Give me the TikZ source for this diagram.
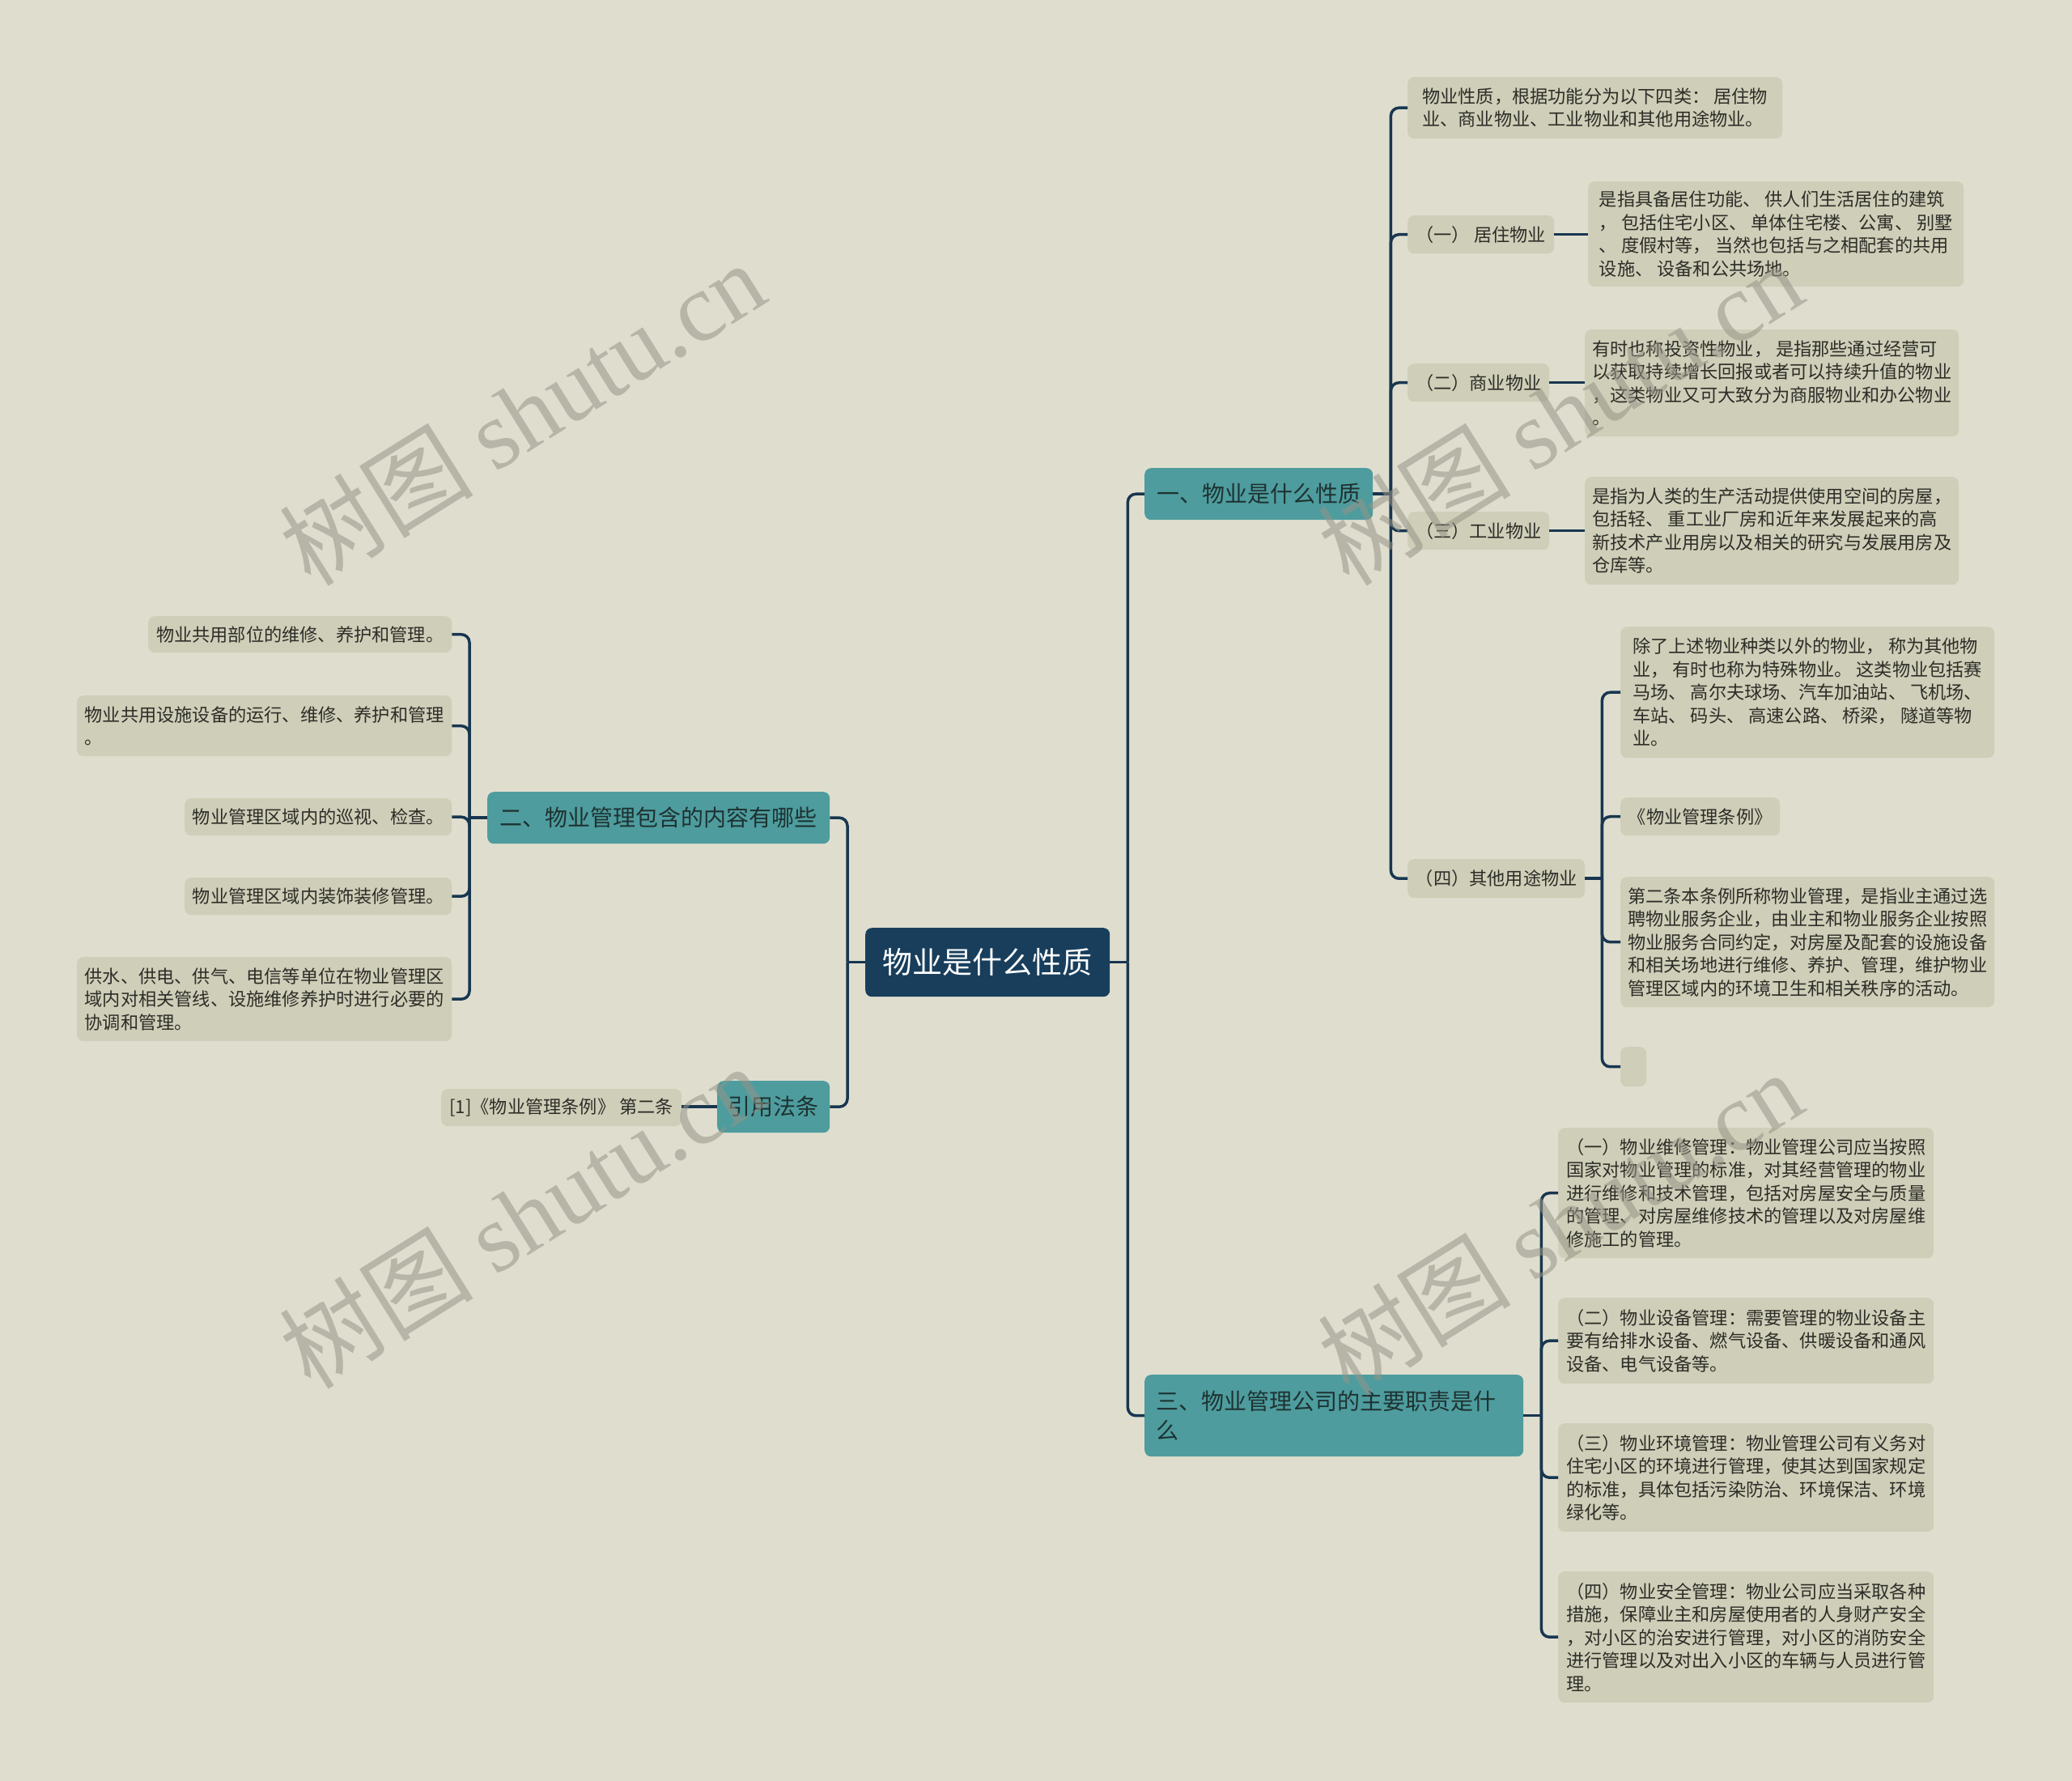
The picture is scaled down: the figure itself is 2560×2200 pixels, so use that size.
\documentclass[tikz,border=0pt]{standalone}
\usepackage{fontspec}
\setmainfont{Noto Sans CJK SC}
\newfontfamily\wmfont{Liberation Serif}
\definecolor{bgc}{RGB}{223,222,206}
\definecolor{leafc}{RGB}{207,206,184}
\definecolor{tealc}{RGB}{78,156,158}
\definecolor{rootc}{RGB}{24,62,92}
\definecolor{linec}{RGB}{24,54,80}
\definecolor{txtc}{RGB}{45,45,40}
\definecolor{btxt}{RGB}{30,50,50}
\definecolor{wmc}{RGB}{150,148,135}
\begin{document}
\begin{tikzpicture}[x=1pt,y=-1pt,
 box/.style={anchor=north west, rounded corners=8pt, inner sep=0pt, align=left},
 leaf/.style={box, fill=leafc, text=txtc, font=\fontsize{22.2}{28.5}\selectfont},
 branch/.style={box, fill=tealc, text=btxt, font=\fontsize{28}{36}\selectfont},
 rootbox/.style={box, fill=rootc, text=white, font=\fontsize{37}{44}\selectfont},
 conn/.style={draw=linec, line width=3.5pt, rounded corners=10pt},
 wm/.style={rotate=32, text=wmc, opacity=0.55, font=\fontsize{120}{125}\selectfont},
]
\useasboundingbox (0,0) rectangle (2560,2200);
\fill[bgc] (0,0) rectangle (2560,2200);

% root and branches
\node[rootbox, minimum width=302pt, minimum height=85pt] (root) at (1069,1146) {物业是什么性质};
\node[branch, minimum width=282pt, minimum height=64pt] (b1) at (1414,578) {一、物业是什么性质};
\node[branch, minimum width=423pt, minimum height=64pt] (b2) at (602,978) {二、物业管理包含的内容有哪些};
\node[branch, minimum width=139pt, minimum height=64pt] (bref) at (886,1335) {引用法条};
\node[branch, minimum width=468pt, minimum height=101pt, text width=440pt, inner xsep=14pt] (b3) at (1414,1698) {三、物业管理公司的主要职责是什\\么};

% branch 1 children
\node[leaf, minimum width=463pt, minimum height=76pt] (c1) at (1739,95) {物业性质，根据功能分为以下四类： 居住物\\业、商业物业、工业物业和其他用途物业。};
\node[leaf, minimum width=181pt, minimum height=47pt] (c2) at (1739,266) {（一） 居住物业};
\node[leaf, minimum width=464pt, minimum height=130pt] (c2x) at (1962,224) {是指具备居住功能、 供人们生活居住的建筑\\， 包括住宅小区、 单体住宅楼、公寓、 别墅\\、 度假村等， 当然也包括与之相配套的共用\\设施、 设备和公共场地。};
\node[leaf, minimum width=175pt, minimum height=47pt] (c3) at (1739,449) {（二）商业物业};
\node[leaf, minimum width=462pt, minimum height=132pt] (c3x) at (1958,407) {有时也称投资性物业， 是指那些通过经营可\\以获取持续增长回报或者可以持续升值的物业\\，这类物业又可大致分为商服物业和办公物业\\。};
\node[leaf, minimum width=175pt, minimum height=47pt] (c4) at (1739,632) {（三）工业物业};
\node[leaf, minimum width=462pt, minimum height=133pt] (c4x) at (1958,589) {是指为人类的生产活动提供使用空间的房屋，\\包括轻、 重工业厂房和近年来发展起来的高\\新技术产业用房以及相关的研究与发展用房及\\仓库等。};
\node[leaf, minimum width=219pt, minimum height=48pt] (c5) at (1739,1061) {（四）其他用途物业};
\node[leaf, minimum width=462pt, minimum height=162pt] (d1) at (2002,774) {除了上述物业种类以外的物业， 称为其他物\\业， 有时也称为特殊物业。 这类物业包括赛\\马场、 高尔夫球场、汽车加油站、 飞机场、\\车站、 码头、 高速公路、 桥梁， 隧道等物\\业。};
\node[leaf, minimum width=197pt, minimum height=47pt] (d2) at (2002,985) {《物业管理条例》};
\node[leaf, minimum width=462pt, minimum height=161pt] (d3) at (2002,1083) {第二条本条例所称物业管理，是指业主通过选\\聘物业服务企业，由业主和物业服务企业按照\\物业服务合同约定，对房屋及配套的设施设备\\和相关场地进行维修、养护、管理，维护物业\\管理区域内的环境卫生和相关秩序的活动。};
\node[leaf, minimum width=32pt, minimum height=49pt] (d4) at (2002,1293) {};

% branch 3 children
\node[leaf, minimum width=464pt, minimum height=161pt] (e1) at (1925,1393) {（一）物业维修管理：物业管理公司应当按照\\国家对物业管理的标准，对其经营管理的物业\\进行维修和技术管理，包括对房屋安全与质量\\的管理、对房屋维修技术的管理以及对房屋维\\修施工的管理。};
\node[leaf, minimum width=464pt, minimum height=106pt] (e2) at (1925,1603) {（二）物业设备管理：需要管理的物业设备主\\要有给排水设备、燃气设备、供暖设备和通风\\设备、电气设备等。};
\node[leaf, minimum width=464pt, minimum height=134pt] (e3) at (1925,1758) {（三）物业环境管理：物业管理公司有义务对\\住宅小区的环境进行管理，使其达到国家规定\\的标准，具体包括污染防治、环境保洁、环境\\绿化等。};
\node[leaf, minimum width=464pt, minimum height=162pt] (e4) at (1925,1941) {（四）物业安全管理：物业公司应当采取各种\\措施，保障业主和房屋使用者的人身财产安全\\，对小区的治安进行管理，对小区的消防安全\\进行管理以及对出入小区的车辆与人员进行管\\理。};

% branch 2 children
\node[leaf, minimum width=375pt, minimum height=45pt] (f1) at (183,761) {物业共用部位的维修、养护和管理。};
\node[leaf, minimum width=463pt, minimum height=75pt] (f2) at (95,859) {物业共用设施设备的运行、维修、养护和管理\\。};
\node[leaf, minimum width=330pt, minimum height=46pt] (f3) at (228,986) {物业管理区域内的巡视、检查。};
\node[leaf, minimum width=330pt, minimum height=46pt] (f4) at (228,1084) {物业管理区域内装饰装修管理。};
\node[leaf, minimum width=463pt, minimum height=104pt] (f5) at (95,1182) {供水、供电、供气、电信等单位在物业管理区\\域内对相关管线、设施维修养护时进行必要的\\协调和管理。};

% ref child
\node[leaf, minimum width=297pt, minimum height=46pt] (rc) at (545,1345) {[1]《物业管理条例》 第二条};

% junctions
\path (root.east) ++(22,0) coordinate (jR);
\path (root.west) ++(-22,0) coordinate (jL);
\path (b1.east) ++(22,0) coordinate (j1);
\path (b2.west) ++(-22,0) coordinate (j2);
\path (b3.east) ++(22,0) coordinate (j3);
\path (c5.east) ++(21,0) coordinate (j5);

% connectors
\draw[conn] (root.east) -- (jR);
\draw[conn] (jR) |- (b1.west);
\draw[conn] (jR) |- (b3.west);
\draw[conn] (root.west) -- (jL);
\draw[conn] (jL) |- (b2.east);
\draw[conn] (jL) |- (bref.east);

\draw[conn] (b1.east) -- (j1);
\foreach \n in {c1,c2,c3,c4,c5} \draw[conn] (j1) |- (\n.west);
\draw[conn] (c2.east) -- (c2.east -| c2x.west);
\draw[conn] (c3.east) -- (c3.east -| c3x.west);
\draw[conn] (c4.east) -- (c4.east -| c4x.west);
\draw[conn] (c5.east) -- (j5);
\foreach \n in {d1,d2,d3,d4} \draw[conn] (j5) |- (\n.west);

\draw[conn] (b3.east) -- (j3);
\foreach \n in {e1,e2,e3,e4} \draw[conn] (j3) |- (\n.west);

\draw[conn] (b2.west) -- (j2);
\foreach \n in {f1,f2,f3,f4,f5} \draw[conn] (j2) |- (\n.east);

\draw[conn] (bref.west) -- (bref.west -| rc.east);

% watermarks
\node[wm] (wm1) at (645,510) {树图 {\wmfont shutu.cn}};
\node[wm] (wm2) at (1927,510) {树图 {\wmfont shutu.cn}};
\node[wm] (wm3) at (645,1502) {树图 {\wmfont shutu.cn}};
\node[wm] (wm4) at (1927,1510) {树图 {\wmfont shutu.cn}};
\end{tikzpicture}
\end{document}
